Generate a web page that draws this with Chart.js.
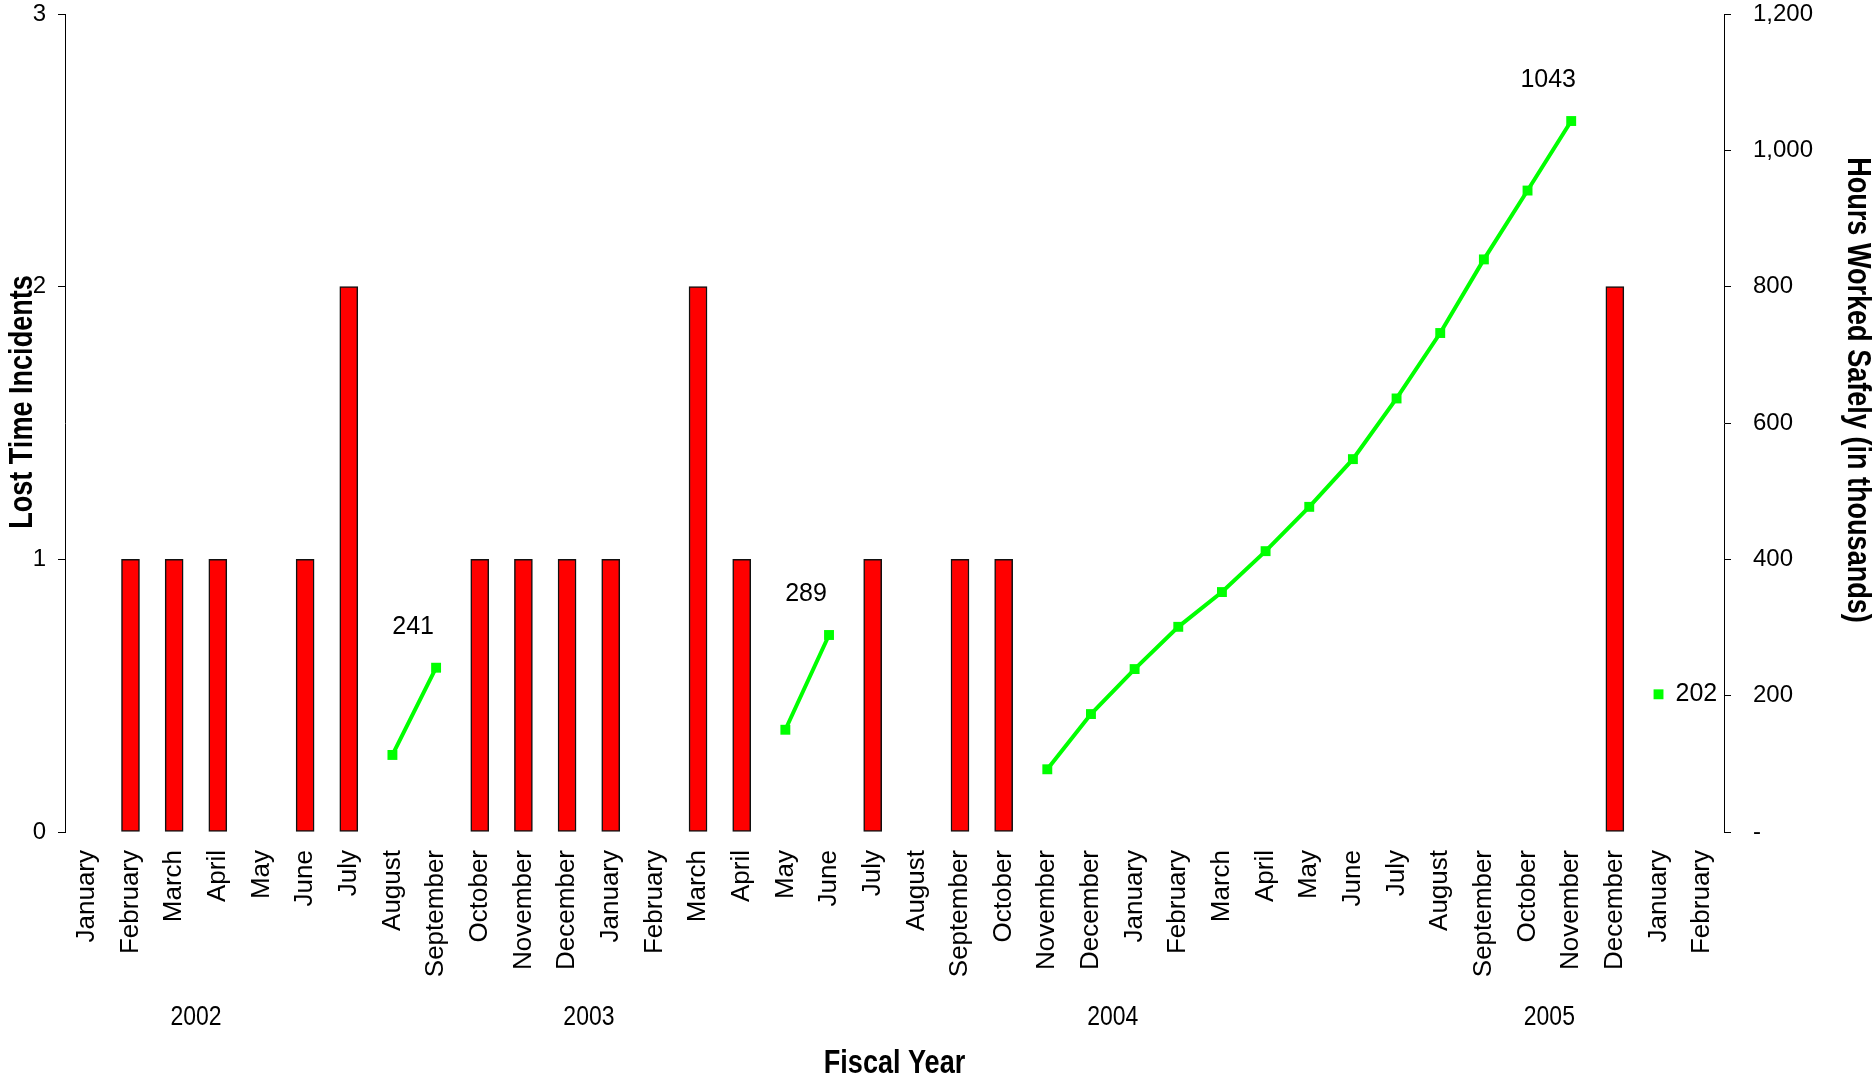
<!DOCTYPE html>
<html>
<head>
<meta charset="utf-8">
<title>Lost Time Incidents and Hours Worked Safely</title>
<script src="https://cdn.jsdelivr.net/npm/chart.js@4/dist/chart.umd.min.js"></script>
<style>
    html, body { margin: 0; padding: 0; background: #fff; }
    #wrap { width: 1872px; height: 1081px; }
</style>
</head>
<body>
<div id="wrap"><canvas id="safetyChart"></canvas></div>
<script>
// Months along the bottom axis, Jan 2002 through Feb 2006
const months = [
    'January', 'February', 'March', 'April', 'May', 'June', 'July', 'August', 'September', 'October', 'November', 'December',
    'January', 'February', 'March', 'April', 'May', 'June', 'July', 'August', 'September', 'October', 'November', 'December',
    'January', 'February', 'March', 'April', 'May', 'June', 'July', 'August', 'September', 'October', 'November', 'December',
    'January', 'February'
];

// Lost time incidents per month (null = none)
const incidents = [
    null, 1, 1, 1, null, 1, 2, null, null, 1, 1, 1,
    1, null, 2, 1, null, null, 1, null, 1, 1, null, null,
    null, null, null, null, null, null, null, null, null, null, null, 2,
    null, null
];

// Cumulative hours worked safely between incidents, in thousands
const hoursWorked = [
    null, null, null, null, null, null, null, 113, 241, null, null, null,
    null, null, null, null, 150, 289, null, null, null, null, 92, 173,
    239, 301, 352, 412, 477, 547, 636, 732, 840, 941, 1043, null,
    202, null
];

const fiscalYears = ['2002', '2003', '2004', '2005'];
const fiscalYearIndex = [2.5, 11.5, 23.5, 33.5];

const incidentTicks = [0, 1, 2, 3];
const hoursTicks = [0, 200, 400, 600, 800, 1000, 1200];

const SANS = '"Liberation Sans", Arial, sans-serif';
const tickFont = { family: SANS, size: 24 };

// Arial Narrow look-alike: regular face squeezed horizontally
function narrowText(ctx, text, x, y, rot, font) {
    ctx.save();
    ctx.translate(x, y);
    ctx.rotate(rot);
    ctx.scale(0.82, 1);
    ctx.font = font;
    ctx.textAlign = 'center';
    ctx.textBaseline = 'middle';
    ctx.fillText(text, 0, 0);
    ctx.restore();
}

// axis titles, year captions, and value labels at the end of each run
const extraLabels = {
    id: 'extraLabels',
    afterDatasetsDraw(chart) {
        const ctx = chart.ctx;
        const x = chart.scales.x;
        const area = chart.chartArea;
        ctx.save();
        ctx.fillStyle = '#000';

        const titleFont = 'bold 33px ' + SANS;
        narrowText(ctx, 'Lost Time Incidents', 23, (area.top + area.bottom) / 2 - 21, -Math.PI / 2, titleFont);
        narrowText(ctx, 'Hours Worked Safely (in thousands)', 1857, (area.top + area.bottom) / 2 - 33, Math.PI / 2, titleFont);
        narrowText(ctx, 'Fiscal Year', (area.left + area.right) / 2, 1064, 0, titleFont);

        fiscalYears.forEach((yr, i) => {
            narrowText(ctx, yr, x.getPixelForValue(fiscalYearIndex[i]), 1017, 0, '28px ' + SANS);
        });

        const meta = chart.getDatasetMeta(1);
        ctx.font = '25px ' + SANS;
        ctx.textBaseline = 'middle';
        hoursWorked.forEach((v, i) => {
            if (v === null) return;
            const next = i + 1 < hoursWorked.length ? hoursWorked[i + 1] : null;
            if (next !== null) return;
            const prev = i > 0 ? hoursWorked[i - 1] : null;
            const pt = meta.data[i];
            if (prev === null) {
                ctx.textAlign = 'left';
                ctx.fillText(String(v), pt.x + 17, pt.y);
            } else {
                ctx.textAlign = 'center';
                ctx.fillText(String(v), pt.x - 23, pt.y - 41);
            }
        });
        ctx.restore();
    }
};

function fixedWidth(w) {
    return function (scale) {
        scale.width = w;
        scale.paddingTop = 0;
        scale.paddingBottom = 0;
    };
}

const ctx = document.getElementById('safetyChart').getContext('2d');
new Chart(ctx, {
    data: {
        labels: months,
        datasets: [
            {
                type: 'bar',
                label: 'Lost Time Incidents',
                data: incidents,
                yAxisID: 'y',
                backgroundColor: '#ff0000',
                borderColor: '#111',
                borderWidth: 1.5,
                borderSkipped: false,
                barThickness: 18,
                order: 2
            },
            {
                type: 'line',
                label: 'Hours Worked Safely',
                data: hoursWorked,
                yAxisID: 'y1',
                borderColor: '#00ff00',
                backgroundColor: '#00ff00',
                borderWidth: 4,
                pointStyle: 'rect',
                pointRadius: 7,
                pointBorderWidth: 0,
                spanGaps: false,
                tension: 0,
                order: 1
            }
        ]
    },
    options: {
        responsive: true,
        maintainAspectRatio: false,
        animation: false,
        layout: { padding: { top: 14, left: 0, right: 0, bottom: 0 } },
        plugins: {
            legend: { display: false },
            tooltip: { enabled: false }
        },
        scales: {
            x: {
                offset: true,
                grid: { display: false, drawTicks: false },
                border: { display: false },
                ticks: {
                    color: '#000',
                    font: { family: SANS, size: 26 },
                    minRotation: 90,
                    maxRotation: 90,
                    autoSkip: false,
                    padding: 18
                },
                afterFit(scale) {
                    scale.height = 249;
                    scale.paddingLeft = 0;
                    scale.paddingRight = 0;
                }
            },
            y: {
                position: 'left',
                min: 0,
                max: 3,
                afterBuildTicks(scale) { scale.ticks = incidentTicks.map(v => ({ value: v })); },
                grid: { drawOnChartArea: false, drawTicks: true, tickLength: 7, color: '#000' },
                border: { display: true, color: '#000', width: 1 },
                ticks: { color: '#000', font: tickFont, padding: 12 },
                afterFit: fixedWidth(65)
            },
            y1: {
                position: 'right',
                min: 0,
                max: 1200,
                afterBuildTicks(scale) { scale.ticks = hoursTicks.map(v => ({ value: v })); },
                grid: { drawOnChartArea: false, drawTicks: true, tickLength: 7, color: '#000' },
                border: { display: true, color: '#000', width: 1 },
                ticks: {
                    color: '#000',
                    font: tickFont,
                    padding: 22,
                    callback: v => v === 0 ? '-' : v.toLocaleString('en-US')
                },
                afterFit: fixedWidth(148)
            }
        }
    },
    plugins: [extraLabels]
});
</script>
</body>
</html>
